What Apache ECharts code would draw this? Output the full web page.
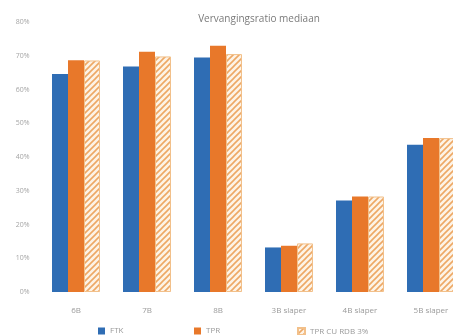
<!DOCTYPE html>
<html>
<head>
<meta charset="utf-8">
<script src="https://cdn.jsdelivr.net/npm/echarts@6/dist/echarts.min.js"></script>
<style>
  html, body { margin: 0; padding: 0; background: #fff; }
  #chart { width: 453px; height: 335px; }
</style>
</head>
<body>
<div id="chart"></div>
<script>
// Median replacement ratio per cohort
const categories = ['6B', '7B', '8B', '3B slaper', '4B slaper', '5B slaper'];
const seriesNames = ['FTK', 'TPR', 'TPR CU RDB 3%'];
const ftk = [0.646, 0.668, 0.695, 0.132, 0.271, 0.436];
const tpr = [0.687, 0.712, 0.730, 0.137, 0.283, 0.456];
const tprRdb = [0.686, 0.698, 0.705, 0.144, 0.283, 0.456];
const yTicks = [0, 0.1, 0.2, 0.3, 0.4, 0.5, 0.6, 0.7, 0.8];

const BLUE = '#2f6db4';
const ORANGE = '#e8782a';

// Diagonal hatch fill for the third series
function hatchPattern() {
  const c = document.createElement('canvas');
  c.width = 6; c.height = 6;
  const g = c.getContext('2d');
  g.fillStyle = '#fdf3e6';
  g.fillRect(0, 0, 6, 6);
  g.strokeStyle = '#eda865';
  g.lineWidth = 1.6;
  g.beginPath();
  g.moveTo(-1, 7); g.lineTo(7, -1);
  g.moveTo(-4, 4); g.lineTo(4, -4);
  g.moveTo(2, 10); g.lineTo(10, 2);
  g.stroke();
  return { image: c, repeat: 'repeat' };
}
const hatch = hatchPattern();

const chart = echarts.init(document.getElementById('chart'), null, { renderer: 'canvas' });

const legendText = { color: '#9a9a9a', fontSize: 8, fontFamily: 'Open Sans' };
function legendFor(name, left) {
  return {
    data: [name], left: left, top: 322, itemWidth: 7, itemHeight: 7,
    itemGap: 4, icon: 'rect', textStyle: legendText, selectedMode: false
  };
}

chart.setOption({
  animation: false,
  title: {
    text: 'Vervangingsratio mediaan',
    left: 254, top: 9, textAlign: 'center',
    textStyle: { color: '#7a7a7a', fontSize: 10, fontWeight: 'normal', fontFamily: 'Open Sans' }
  },
  legend: [
    legendFor(seriesNames[0], 93),
    legendFor(seriesNames[1], 189),
    legendFor(seriesNames[2], 292)
  ],
  // the plot area runs past the right edge, so the last group is cut off
  grid: {
    left: 40.5, width: 426, top: 22, bottom: 43,
    containLabel: false, outerBoundsMode: 'none'
  },
  xAxis: {
    type: 'category',
    data: categories,
    axisLine: { show: false },
    axisTick: { show: false },
    axisLabel: { color: '#9a9a9a', fontSize: 8, margin: 15, fontFamily: 'Open Sans' }
  },
  yAxis: {
    type: 'value',
    min: yTicks[0], max: yTicks[yTicks.length - 1], interval: 0.1,
    splitLine: { show: false },
    axisLine: { show: false },
    axisTick: { show: false },
    axisLabel: {
      color: '#a5a5a5', fontSize: 7, margin: 11, fontFamily: 'Open Sans',
      formatter: v => Math.round(v * 100) + '%'
    }
  },
  series: [
    { name: seriesNames[0], type: 'bar', data: ftk, barWidth: 16, barGap: '0%',
      itemStyle: { color: BLUE } },
    { name: seriesNames[1], type: 'bar', data: tpr, barWidth: 16, barGap: '0%',
      itemStyle: { color: ORANGE } },
    { name: seriesNames[2], type: 'bar', data: tprRdb, barWidth: 16, barGap: '0%',
      itemStyle: { color: hatch, borderColor: '#f2c08a', borderWidth: 1 } }
  ]
});
</script>
</body>
</html>
